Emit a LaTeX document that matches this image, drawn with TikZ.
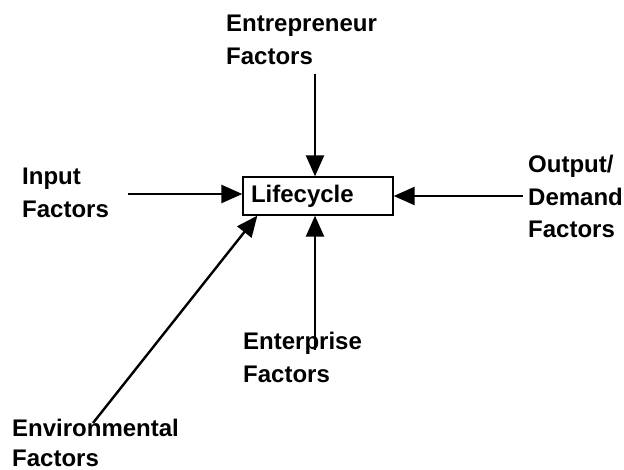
\documentclass[tikz,border=0pt]{standalone}
\usepackage{fontspec}
\setmainfont{Liberation Sans}
\usetikzlibrary{arrows.meta,calc}
\begin{document}
\begin{tikzpicture}[x=1pt,y=-1pt,
  lbl/.style={anchor=north west,inner sep=0pt,align=left,font=\fontsize{24}{32.5}\selectfont\bfseries},
  arr/.style={line width=2.4pt,-{Triangle[length=21pt,width=18pt]}},
  boxnode/.style={draw,line width=1.3pt,minimum width=150pt,minimum height=38pt,text width=134pt,inner xsep=8pt,inner ysep=0pt,align=left,font=\fontsize{24}{28}\selectfont\bfseries}]
\useasboundingbox (0,0) rectangle (624,470);
\node[boxnode] (lc) at (318,196) {Lifecycle};
\node[lbl] (ent) at (226,15) {Entrepreneur\\Factors};
\node[lbl] (inp) at (22,168) {Input\\Factors};
\node[lbl] (out) at (528,155) {Output/\\Demand\\Factors};
\node[lbl] (epr) at (243,332) {Enterprise\\Factors};
\node[lbl,font=\fontsize{24}{29.5}\selectfont\bfseries] (env) at (12,419) {Environmental\\Factors};
\coordinate (t0) at (315,74);
\coordinate (l0) at (128,194);
\coordinate (r0) at (523,196);
\coordinate (b0) at (315,350);
\coordinate (d0) at (93,423);
\draw[arr] (t0) -- (lc.north -| t0);
\draw[arr] (l0) -- (lc.west |- l0);
\draw[arr] (r0) -- (lc.east |- r0);
\draw[arr] (b0) -- (lc.south -| b0);
\draw[arr] (d0) -- ($(lc.south west)+(15,0)$);
\end{tikzpicture}
\end{document}
